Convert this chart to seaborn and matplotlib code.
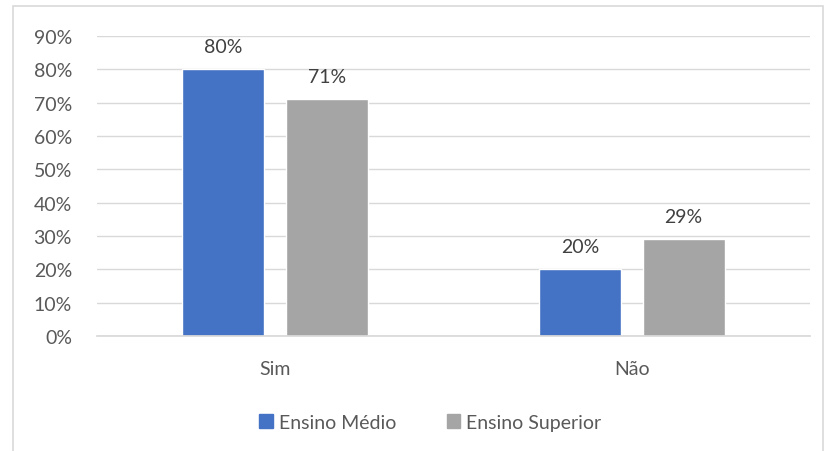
import matplotlib.pyplot as plt
import matplotlib.patches as mpatches
import pandas as pd
import seaborn as sns
from matplotlib.ticker import PercentFormatter

categorias = ['Sim', 'Não']
ensino_medio = [0.80, 0.20]
ensino_superior = [0.71, 0.29]
series = ['Ensino Médio', 'Ensino Superior']
cores = ['#4472C4', '#A5A5A5']

df = pd.DataFrame({
    'resposta': categorias * 2,
    'valor': ensino_medio + ensino_superior,
    'nivel': [series[0]] * 2 + [series[1]] * 2,
})

sns.set_theme(style='white')
plt.rcParams['font.family'] = ['Lato', 'DejaVu Sans']
fs = 14

fig = plt.figure(figsize=(8.31, 4.52), dpi=100)
ax = fig.add_axes([0.1167, 0.2544, 0.858, 0.6637])

sns.barplot(data=df, x='resposta', y='valor', hue='nivel', palette=cores,
            width=0.583, gap=0.21, saturation=1, ax=ax, legend=False)

for cont in ax.containers:
    ax.bar_label(cont, labels=[f'{v * 100:.0f}%' for v in cont.datavalues],
                 padding=10, fontsize=fs, color='#404040')

ax.set_ylim(0, 0.9)
ax.set_xlim(-0.5, 1.5)
ax.set_yticks([i / 10 for i in range(10)])
ax.yaxis.set_major_formatter(PercentFormatter(1.0, decimals=0))
ax.grid(axis='y', color='#D9D9D9', linewidth=1)
ax.set_axisbelow(True)
for s in ['top', 'right', 'left']:
    ax.spines[s].set_visible(False)
ax.spines['bottom'].set_color('#D9D9D9')
ax.tick_params(axis='both', length=0, labelsize=fs, labelcolor='#595959')
ax.tick_params(axis='y', pad=18)
ax.tick_params(axis='x', pad=17)
ax.set_xlabel('')
ax.set_ylabel('')

handles = [mpatches.Patch(color=c, label=s) for c, s in zip(cores, series)]
fig.legend(handles=handles, loc='center', bbox_to_anchor=(0.518, 0.063), ncol=2,
           frameon=False, fontsize=fs, labelcolor='#595959',
           handlelength=0.7, handleheight=0.7, handletextpad=0.3, columnspacing=2.6)

border = mpatches.Rectangle((13 / 831, -0.05), 810 / 831, 1.05 - 7 / 452,
                            transform=fig.transFigure, fill=False,
                            edgecolor='#D9D9D9', linewidth=1.2)
fig.patches.append(border)

fig.savefig('out.png', dpi=100)
